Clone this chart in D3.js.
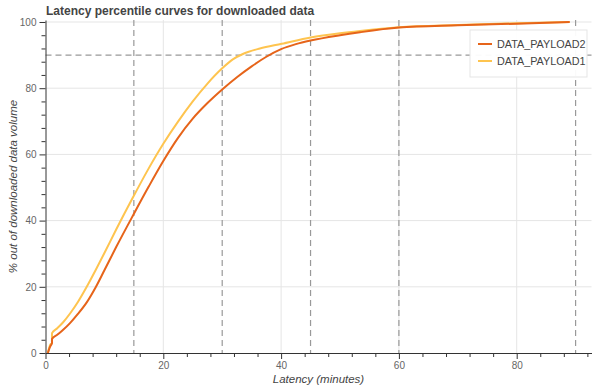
<!DOCTYPE html>
<html>
<head>
<meta charset="utf-8">
<script src="https://cdn.jsdelivr.net/npm/d3@7"></script>
<style>
  body { margin: 0; background: #fff; }
  svg { font-family: "Liberation Sans", Helvetica, Arial, sans-serif; }
</style>
</head>
<body>
<div id="viz"></div>
<script>
// latency (minutes) vs % of downloaded data volume
var payload1 = [[0.4,0],[0.8,2.5],[1.1,3],[1.1,6],[2,7.5],[3,9.3],[4.2,12],[5.5,15.4],[7,20],[8.5,25],[10,30.2],[12,37.3],[14.9,47.2],[17.5,55.7],[20,63.2],[22.5,69.9],[25,76],[27.5,81.4],[30,86],[31.8,88.7],[33.6,90.4],[36.4,92],[40.1,93.4],[45,95.3],[50,96.6],[53.4,97.3],[60,98.4],[70,99.1],[80,99.6],[89,100]];
var payload2 = [[0.4,0],[0.8,2],[1.1,3],[1.1,4.2],[2,5.5],[3,7],[4.2,9.1],[5.5,11.8],[7,15.3],[8.5,19.8],[10,25],[12,32],[14.9,41.7],[17.5,50.2],[20,58],[22.5,65],[25,70.8],[27.5,75.5],[30,79.6],[32.5,83.3],[35,86.6],[37.5,89.5],[40,91.8],[42.5,93.3],[45,94.4],[50,96],[53.4,96.9],[60,98.3],[70,99],[80,99.5],[89,100]];
var seriesNames = ["DATA_PAYLOAD2", "DATA_PAYLOAD1"];
var xMarks = [15, 30, 45, 60, 90];
var yMarks = [90];

(function () {
var width = 592, height = 387;
var pLeft = 45.5, pRight = 591.5, pTop = 20, pBottom = 353;

var svg = d3.select("#viz").append("svg")
  .attr("width", width)
  .attr("height", height);

var x = d3.scaleLinear().domain([0, 92.7]).range([pLeft, pRight]);
var y = d3.scaleLinear().domain([0, 100.6]).range([pBottom, pTop]);

var xMajor = [0, 20, 40, 60, 80];
var yMajor = [0, 20, 40, 60, 80, 100];
var xMinor = d3.range(0, 93, 4).filter(function (d) { return d % 20 != 0; });
var yMinor = d3.range(0, 101, 4).filter(function (d) { return d % 20 != 0; });

// grid
svg.append("g").selectAll("line")
  .data(xMajor.slice(1))
  .enter().append("line")
  .attr("x1", function (d) { return x(d); }).attr("x2", function (d) { return x(d); })
  .attr("y1", pTop).attr("y2", pBottom)
  .attr("stroke", "#e5e5e5");
svg.append("g").selectAll("line")
  .data(yMajor.slice(1))
  .enter().append("line")
  .attr("x1", pLeft).attr("x2", pRight)
  .attr("y1", function (d) { return y(d); }).attr("y2", function (d) { return y(d); })
  .attr("stroke", "#e5e5e5");

// dashed reference lines
svg.append("g").selectAll("line")
  .data(xMarks)
  .enter().append("line")
  .attr("x1", function (d) { return x(d); }).attr("x2", function (d) { return x(d); })
  .attr("y1", pTop).attr("y2", pBottom)
  .attr("stroke", "#999").attr("stroke-width", 1.2).attr("stroke-dasharray", "6,4");
svg.append("g").selectAll("line")
  .data(yMarks)
  .enter().append("line")
  .attr("x1", pLeft).attr("x2", pRight)
  .attr("y1", function (d) { return y(d); }).attr("y2", function (d) { return y(d); })
  .attr("stroke", "#999").attr("stroke-width", 1.2).attr("stroke-dasharray", "6,4");

// curves
var line = d3.line()
  .x(function (d) { return x(d[0]); })
  .y(function (d) { return y(d[1]); })
  .curve(d3.curveMonotoneX);
var colors = ["#e6641a", "#fec44f"];
var series = [payload2, payload1];
[1, 0].forEach(function (i) {
  svg.append("path")
    .datum(series[i])
    .attr("fill", "none")
    .attr("stroke", colors[i])
    .attr("stroke-width", 2)
    .attr("d", line);
});

// axes
var xAxis = svg.append("g").attr("transform", "translate(0," + pBottom + ")");
xAxis.call(d3.axisBottom(x).tickValues(xMinor).tickSize(4).tickFormat(""));
xAxis.call(function (g) { g.select(".domain").remove(); });
svg.append("g").attr("transform", "translate(0," + pBottom + ")")
  .call(d3.axisBottom(x).tickValues(xMajor).tickSizeInner(6).tickSizeOuter(0).tickPadding(3));
var yAxis = svg.append("g").attr("transform", "translate(" + pLeft + ",0)");
yAxis.call(d3.axisLeft(y).tickValues(yMinor).tickSize(4).tickFormat(""));
yAxis.call(function (g) { g.select(".domain").remove(); });
svg.append("g").attr("transform", "translate(" + pLeft + ",0)")
  .call(d3.axisLeft(y).tickValues(yMajor).tickSizeInner(6).tickSizeOuter(0).tickPadding(3));

svg.selectAll(".tick line").attr("stroke", "#333");
svg.selectAll(".domain").attr("stroke", "#333");
svg.selectAll(".tick text").attr("fill", "#666").style("font-size", "10px");

// titles
svg.append("text")
  .attr("x", 46).attr("y", 15)
  .style("font-size", "12px").style("font-weight", "bold")
  .attr("fill", "#444")
  .text("Latency percentile curves for downloaded data");

svg.append("text")
  .attr("x", (pLeft + pRight) / 2).attr("y", 383)
  .style("text-anchor", "middle").style("font-size", "11.5px").style("font-style", "italic")
  .attr("fill", "#444")
  .text("Latency (minutes)");

svg.append("text")
  .attr("transform", "translate(17," + ((pTop + pBottom) / 2) + ") rotate(-90)")
  .style("text-anchor", "middle").style("font-size", "11.5px").style("font-style", "italic")
  .attr("fill", "#444")
  .text("% out of downloaded data volume");

// legend
var legend = svg.append("g").attr("transform", "translate(470,30)");
legend.append("rect")
  .attr("width", 117).attr("height", 47)
  .attr("fill", "#fff").attr("fill-opacity", 0.95)
  .attr("stroke", "#e5e5e5");
seriesNames.forEach(function (name, i) {
  var row = legend.append("g").attr("transform", "translate(0," + (14 + i * 17) + ")");
  row.append("line")
    .attr("x1", 8).attr("x2", 22)
    .attr("stroke", colors[i]).attr("stroke-width", 2);
  row.append("text")
    .attr("x", 27).attr("dy", "0.35em")
    .style("font-size", "10.8px").attr("fill", "#444")
    .text(name);
});
})();
</script>
</body>
</html>
